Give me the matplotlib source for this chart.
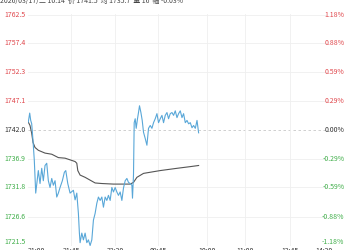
import matplotlib
matplotlib.use('Agg')
import matplotlib.pyplot as plt

plt.rcParams['font.family'] = ['Noto Sans CJK SC', 'DejaVu Sans']

# intraday price (x = slot position along the session axis)
price_x = [0.3, 1.7, 2.7, 3.7, 5, 6.3, 7.7, 10.3, 12, 13.7, 15.3, 17, 18.7, 20.3, 22, 23.7, 25.3, 27,
           28.7, 30.3, 32, 34.3, 36.3, 37.7, 39.7, 42, 45.3, 47, 48.7, 50.3, 51.3, 52, 53.7, 55.3, 57,
           58.7, 60.3, 62, 63.7, 65.3, 67, 68.7, 70.3, 72, 73.7, 75.3, 77, 78.7, 80.3, 82, 83.7, 85.3,
           87, 88.7, 90.3, 92, 93.7, 95.3, 97, 98.7, 100.3, 102, 103.7, 104.3, 105.3, 106, 107, 108,
           109.3, 110.3, 111.3, 112.7, 114, 115.3, 117, 118.7, 120.3, 122, 123.7, 125.3, 127, 128.7,
           130.3, 132, 133.7, 135.3, 137, 138.7, 140.3, 142, 143.7, 145.3, 147, 148.7, 150.3, 152,
           153.7, 155.3, 157, 158.7, 160.3, 162, 163.7, 165.3, 167, 168.7, 170.3]
price = [1743.4, 1745.0, 1743.7, 1743.1, 1740.1, 1736.6, 1730.8, 1734.8, 1732.5, 1735.2, 1733.0, 1735.7,
         1736.1, 1733.0, 1731.8, 1733.4, 1732.2, 1733.0, 1730.1, 1730.8, 1731.8, 1733.0, 1734.5, 1734.8,
         1732.5, 1730.8, 1731.3, 1729.6, 1730.8, 1727.2, 1723.7, 1722.0, 1723.7, 1722.5, 1723.7, 1722.0,
         1722.5, 1721.5, 1722.5, 1726.0, 1727.2, 1729.0, 1730.1, 1729.5, 1730.1, 1728.3, 1730.1, 1729.5,
         1730.4, 1729.5, 1731.8, 1731.0, 1731.8, 1731.0, 1730.4, 1731.0, 1729.5, 1731.7, 1733.0, 1733.4,
         1732.7, 1732.5, 1732.2, 1729.9, 1734.0, 1743.3, 1744.0, 1742.3, 1744.0, 1745.1, 1746.3, 1745.1,
         1743.7, 1741.6, 1740.5, 1739.3, 1742.3, 1742.8, 1742.3, 1743.3, 1744.0, 1744.9, 1743.3, 1744.0,
         1744.6, 1743.3, 1744.6, 1745.1, 1744.0, 1744.9, 1745.1, 1744.6, 1745.4, 1744.2, 1744.9, 1745.4,
         1744.2, 1744.9, 1743.3, 1743.7, 1743.1, 1743.3, 1742.4, 1742.8, 1742.3, 1743.7, 1741.5]

# average price line
avg_x = [0.3, 2, 3.7, 5, 7, 10.3, 17, 23.7, 30.3, 37, 43.7, 47, 48.7, 49.7, 52, 57, 62, 67, 73.7,
         85.3, 102, 105.3, 108.7, 115.3, 132, 148.7, 162, 170.3]
avg = [1743.4, 1742.8, 1741.4, 1739.8, 1738.9, 1738.4, 1737.9, 1737.7, 1737.1, 1737.0, 1736.6, 1736.4,
       1736.1, 1734.8, 1734.0, 1733.6, 1733.1, 1732.6, 1732.5, 1732.4, 1732.4, 1732.7, 1733.6, 1734.3,
       1734.8, 1735.2, 1735.5, 1735.7]

prev_close = 1742.0
y_ticks = [1721.5, 1726.6, 1731.8, 1736.9, 1742.0, 1747.1, 1752.3, 1757.4, 1762.5]
pct_labels = ['-1.18%', '-0.88%', '-0.59%', '-0.29%', '0.00%', '0.29%', '0.59%', '0.88%', '1.18%']
time_pos = [0, 43, 87, 130, 179, 217, 262, 295]
time_labels = ['21:00', '21:45', '22:30', '09:45', '10:00', '11:00', '13:45', '14:30']
header = '2026/03/17/二 10:14  价 1741.5  均 1735.7  量 16  幅 -0.03%'

RED = '#e0474c'
GREEN = '#3fae49'
BLUE = '#59a7d8'

fig = plt.figure(figsize=(3.5, 2.5), dpi=100)
ax = fig.add_axes([0.08, 0.018, 0.853, 0.924])
ax.set_xlim(0, 298)
ax.set_ylim(y_ticks[0], y_ticks[-1])

for v in y_ticks:
    if v == prev_close:
        ax.axhline(v, color='#c8c8c8', lw=0.6, ls=(0, (3, 3)), zorder=1)
    else:
        ax.axhline(v, color='#efefef', lw=0.6, zorder=1)
for p in time_pos[1:-1]:
    ax.axvline(p, color='#efefef', lw=0.6, zorder=1)

ax.plot(avg_x, avg, color='#555555', lw=0.8, zorder=3)
ax.plot(price_x, price, color=BLUE, lw=0.8, zorder=4)

for i, v in enumerate(y_ticks):
    c = RED if v > prev_close else (GREEN if v < prev_close else '#333333')
    va = 'bottom' if i == 0 else 'center'
    ax.text(-0.008, v, f'{v:.1f}', transform=ax.get_yaxis_transform(), ha='right', va=va,
            fontsize=5, color=c, clip_on=False)
    ax.text(1.06, v, pct_labels[i], transform=ax.get_yaxis_transform(), ha='right', va=va,
            fontsize=5, color=c, clip_on=False)

for p, lab in zip(time_pos, time_labels):
    ha = 'left' if p == 0 else 'center'
    ax.text(p, -0.005, lab, transform=ax.get_xaxis_transform(), ha=ha, va='top',
            fontsize=5, color='#333333', clip_on=False)

fig.text(0.0, 0.997, header, ha='left', va='center', fontsize=5, color='#444444')

for s in ax.spines.values():
    s.set_visible(False)
ax.set_xticks([])
ax.set_yticks([])

fig.savefig('out.png', dpi=100)
